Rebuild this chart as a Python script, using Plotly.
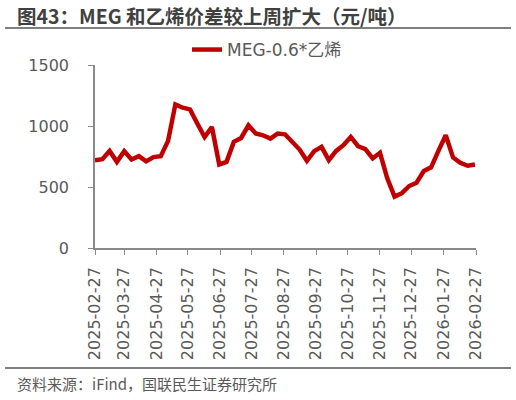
import pandas as pd
import plotly.graph_objs as go

# weekly MEG-0.6*ethylene spread, yuan/ton
dates = pd.date_range("2025-02-27", periods=53, freq="7D")
spread = [720, 728, 796, 706, 794, 726, 753, 710, 745, 753,
          878, 1177, 1150, 1136, 1020, 910, 992, 685, 706, 870,
          902, 1006, 938, 924, 897, 938, 932, 870, 807, 715,
          794, 829, 720, 796, 843, 910, 834, 810, 734, 780,
          571, 421, 449, 508, 535, 631, 661, 796, 924, 742,
          698, 674, 685]

tick_text = ["2025-02-27", "2025-03-27", "2025-04-27", "2025-05-27", "2025-06-27",
             "2025-07-27", "2025-08-27", "2025-09-27", "2025-10-27", "2025-11-27",
             "2025-12-27", "2026-01-27", "2026-02-27"]
y_ticks = [0, 500, 1000, 1500]

title = "图43：MEG 和乙烯价差较上周扩大（元/吨）"
source = "资料来源：iFind，国联民生证券研究所"
series_name = "MEG-0.6*乙烯"

CJK = "Noto Sans CJK SC"
LATIN = "DejaVu Sans, Noto Sans CJK SC"
GREY = "#595959"

W, H = 516, 400
# plot area in pixels
L, R, T, B = 95, 476, 65, 248


def px(x):
    return (x - L) / (R - L)


def py(y):
    return (B - y) / (B - T)


fig = go.Figure()
fig.add_trace(go.Scatter(
    x=dates, y=spread, mode="lines", name=series_name,
    line=dict(color="#C00000", width=4.5),
))

fig.update_layout(
    width=W, height=H,
    margin=dict(l=L, r=W - R, t=T, b=H - B),
    paper_bgcolor="white", plot_bgcolor="white",
    font=dict(family=CJK, color=GREY, size=14),
    showlegend=True,
    legend=dict(orientation="h", x=px(187), y=py(50), xanchor="left", yanchor="middle",
                font=dict(family=LATIN, size=17, color=GREY), bgcolor="rgba(0,0,0,0)"),
)

fig.update_xaxes(
    type="date", range=[pd.Timestamp("2025-02-27"), pd.Timestamp("2026-02-27")],
    tickvals=pd.to_datetime(tick_text), ticktext=tick_text, tickangle=-90,
    ticks="outside", ticklen=5, tickcolor="#898989",
    showline=True, linecolor="#898989", linewidth=1.5,
    showgrid=False, zeroline=False,
    tickfont=dict(family=LATIN, size=16, color=GREY), ticklabelstandoff=6,
)
fig.update_yaxes(
    range=[0, 1500], tickvals=y_ticks,
    ticks="outside", ticklen=5, tickcolor="#898989",
    showline=True, linecolor="#898989", linewidth=1.5,
    showgrid=False, zeroline=False,
    tickfont=dict(family=LATIN, size=16, color=GREY), ticklabelstandoff=16,
)

fig.add_annotation(text="<b>" + title + "</b>", xref="paper", yref="paper",
                   x=px(15), y=py(15.5), xanchor="left", yanchor="middle",
                   showarrow=False, font=dict(size=19.5, color="#404040"))
fig.add_annotation(text=source, xref="paper", yref="paper",
                   x=px(15), y=py(383), xanchor="left", yanchor="middle",
                   showarrow=False, font=dict(size=15, color=GREY))

for ypix in (28, 368):
    fig.add_shape(type="line", xref="paper", yref="paper",
                  x0=px(5), x1=px(511), y0=py(ypix), y1=py(ypix),
                  line=dict(color="#7f7f7f", width=2))

# drop the page's default body margin so the figure fills the window
fig.write_html("out.html", config={"displayModeBar": False},
               post_script="document.body.style.margin='0';")
